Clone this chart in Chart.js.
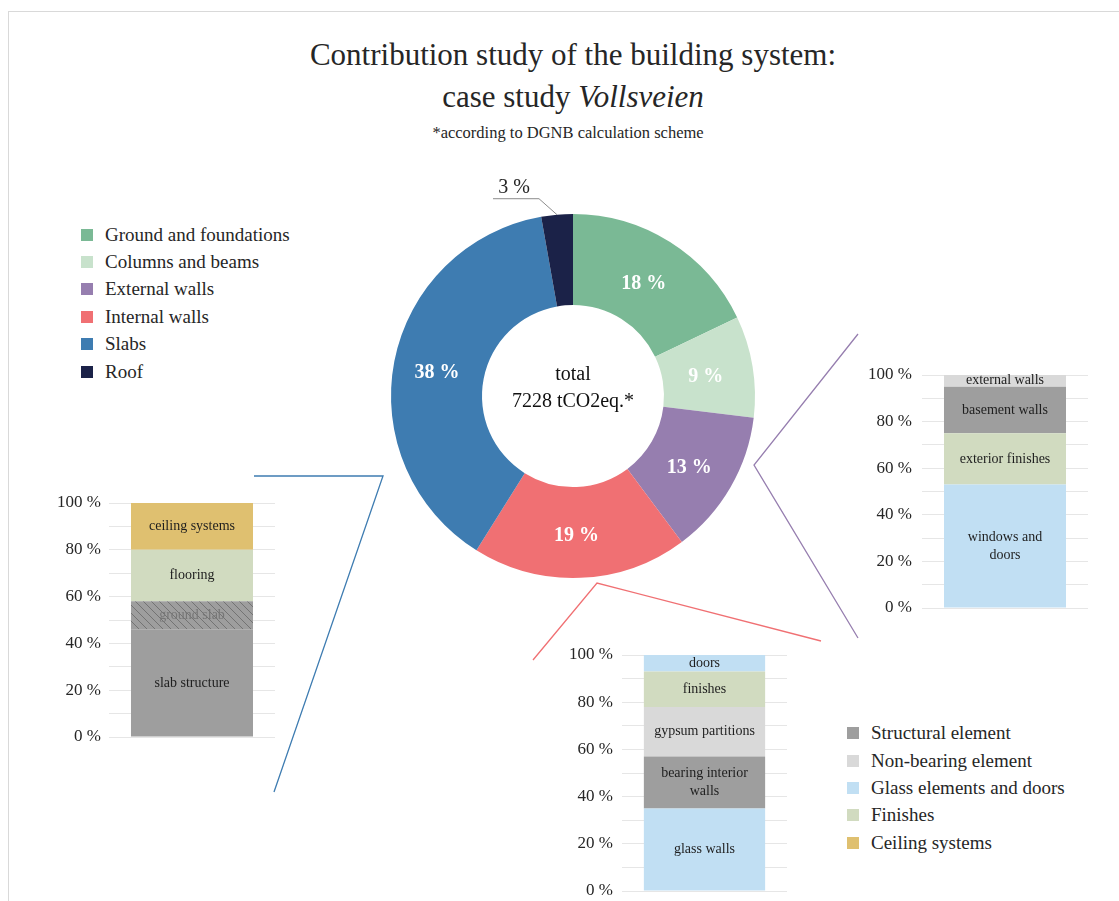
<!DOCTYPE html>
<html lang="en">
<head>
<meta charset="UTF-8">
<title>Contribution study of the building system</title>
<script src="https://cdn.jsdelivr.net/npm/chart.js@4"></script>
<style>
    body {
        margin: 0;
        width: 1119px;
        height: 901px;
        overflow: hidden;
        background: #fff;
        font-family: "Liberation Serif", "Times New Roman", serif;
        color: #262626;
    }
    #frame {
        position: absolute;
        left: 8px;
        top: 11px;
        width: 1200px;
        height: 1000px;
        border-left: 1px solid #d9d9d9;
        border-top: 1px solid #d9d9d9;
    }
    .title {
        position: absolute;
        left: 223px;
        width: 700px;
        text-align: center;
        white-space: nowrap;
    }
    .box { position: absolute; }
    .legend { position: absolute; }
    .legend div {
        display: flex;
        align-items: center;
        height: 27.4px;
        font-size: 19px;
        white-space: nowrap;
    }
    .legend span.sw {
        display: inline-block;
        width: 12px;
        height: 12px;
        margin-right: 12px;
    }
    svg { position: absolute; left: 0; top: 0; pointer-events: none; }
</style>
</head>
<body>
<div id="frame"></div>

<div class="title" style="top:37px; font-size:31px; line-height:36px;">Contribution study of the building system:</div>
<div class="title" style="top:79px; font-size:31px; line-height:36px;">case study <i>Vollsveien</i></div>
<div class="title" style="top:124px; left:218px; font-size:16.5px; line-height:18px;">*according to DGNB calculation scheme</div>

<div id="mainLegend" class="legend" style="left:81px; top:221px;"></div>
<div id="typeLegend" class="legend" style="left:847px; top:719.5px;"></div>

<div class="box" style="left:363px; top:176px; width:420px; height:440px;"><canvas id="donut"></canvas></div>
<div class="box" style="left:40px; top:490px; width:240px; height:260px;"><canvas id="slabBar"></canvas></div>
<div class="box" style="left:850px; top:362px; width:250px; height:259px;"><canvas id="extBar"></canvas></div>
<div class="box" style="left:550px; top:642px; width:250px; height:259px;"><canvas id="intBar"></canvas></div>

<!-- connector lines between donut and detail bars -->
<svg width="1119" height="901">
    <polyline points="254,476 383,476 274,792" fill="none" stroke="#3e7cb1" stroke-width="1.3"/>
    <polyline points="533,660 597,583 821,641" fill="none" stroke="#f07073" stroke-width="1.3"/>
    <polyline points="858,334 754,465 858,638" fill="none" stroke="#967eaf" stroke-width="1.3"/>
</svg>

<script>
    // building system parts, share of total (%)
    var parts = ['Ground and foundations', 'Columns and beams', 'External walls', 'Internal walls', 'Slabs', 'Roof'];
    var partShares = [17.9, 9.0, 12.9, 19.1, 38.3, 2.8];
    var partColors = ['#7ab995', '#c8e2cc', '#967eaf', '#f07073', '#3e7cb1', '#1b2248'];
    var totalText = ['total', '7228 tCO2eq.*'];

    // element types used in the detail bars
    var types = ['Structural element', 'Non-bearing element', 'Glass elements and doors', 'Finishes', 'Ceiling systems'];
    var typeColors = ['#9e9e9e', '#d9d9d9', '#c1dff3', '#d1dbc0', '#dfc070'];

    // slabs breakdown (%)
    var slabItems = ['slab structure', 'ground slab', 'flooring', 'ceiling systems'];
    var slabValues = [46, 12, 22, 20];
    var slabTypes = [0, 0, 3, 4];

    // external walls breakdown (%)
    var extItems = ['windows and\ndoors', 'exterior finishes', 'basement walls', 'external walls'];
    var extValues = [53, 22, 20, 5];
    var extTypes = [2, 3, 0, 1];

    // internal walls breakdown (%)
    var intItems = ['glass walls', 'bearing interior\nwalls', 'gypsum partitions', 'finishes', 'doors'];
    var intValues = [35, 22, 21, 15, 7];
    var intTypes = [2, 0, 1, 3, 2];

    var serif = '"Liberation Serif", "Times New Roman", serif';
    Chart.defaults.font.family = serif;
    Chart.defaults.color = '#262626';
    Chart.defaults.animation = false;

    // legends
    function buildLegend(id, names, colors) {
        var el = document.getElementById(id);
        names.forEach(function (n, i) {
            var row = document.createElement('div');
            var sw = document.createElement('span');
            sw.className = 'sw';
            sw.style.background = colors[i];
            row.appendChild(sw);
            row.appendChild(document.createTextNode(n));
            el.appendChild(row);
        });
    }
    buildLegend('mainLegend', parts, partColors);
    buildLegend('typeLegend', types, typeColors);

    // hatch for ground slab
    function hatch() {
        var c = document.createElement('canvas');
        c.width = 8; c.height = 8;
        var g = c.getContext('2d');
        g.fillStyle = typeColors[0];
        g.fillRect(0, 0, 8, 8);
        g.strokeStyle = '#737373';
        g.lineWidth = 1;
        g.beginPath();
        g.moveTo(0, 0); g.lineTo(8, 8);
        g.moveTo(-1, 7); g.lineTo(1, 9);
        g.moveTo(7, -1); g.lineTo(9, 1);
        g.stroke();
        return g.createPattern(c, 'repeat');
    }

    var donutLabels = {
        id: 'donutLabels',
        afterDraw: function (chart) {
            var ctx = chart.ctx;
            var meta = chart.getDatasetMeta(0);
            var vals = chart.data.datasets[0].data;
            ctx.save();
            ctx.textAlign = 'center';
            ctx.textBaseline = 'middle';
            meta.data.forEach(function (arc, i) {
                var txt = Math.round(vals[i]) + ' %';
                if (vals[i] >= 5) {
                    var p = arc.tooltipPosition();
                    ctx.font = 'bold 20px ' + serif;
                    ctx.fillStyle = '#ffffff';
                    ctx.fillText(txt, p.x - 2, p.y + 3);
                } else {
                    var mid = (arc.startAngle + arc.endAngle) / 2;
                    var x0 = arc.x + Math.cos(mid) * arc.outerRadius;
                    var y0 = arc.y + Math.sin(mid) * arc.outerRadius;
                    var x1 = x0 - 18, y1 = y0 - 16;
                    var x2 = x1 - 46;
                    ctx.strokeStyle = '#8c8c8c';
                    ctx.lineWidth = 1;
                    ctx.beginPath();
                    ctx.moveTo(x0, y0); ctx.lineTo(x1, y1); ctx.lineTo(x2, y1);
                    ctx.stroke();
                    ctx.font = '20px ' + serif;
                    ctx.fillStyle = '#262626';
                    ctx.fillText(txt, (x1 + x2) / 2 - 2, y1 - 11);
                }
            });
            var c = meta.data[0];
            ctx.font = '20px ' + serif;
            ctx.fillStyle = '#111';
            ctx.fillText(totalText[0], c.x, c.y - 21);
            ctx.fillText(totalText[1], c.x, c.y + 6);
            ctx.restore();
        }
    };

    new Chart(document.getElementById('donut'), {
        type: 'doughnut',
        data: {
            labels: parts,
            datasets: [{
                data: partShares,
                backgroundColor: partColors,
                borderWidth: 0
            }]
        },
        options: {
            responsive: true,
            maintainAspectRatio: false,
            cutout: '50%',
            layout: { padding: { top: 38, bottom: 38, left: 28, right: 28 } },
            plugins: { legend: { display: false }, tooltip: { enabled: false } }
        },
        plugins: [donutLabels]
    });

    var segLabels = {
        id: 'segLabels',
        afterDatasetsDraw: function (chart) {
            var ctx = chart.ctx;
            ctx.save();
            ctx.font = '14px ' + serif;
            ctx.textAlign = 'center';
            ctx.textBaseline = 'middle';
            chart.data.datasets.forEach(function (ds, i) {
                var el = chart.getDatasetMeta(i).data[0];
                var lines = ds.label.split('\n');
                var cy = (el.y + el.base) / 2;
                ctx.fillStyle = ds.textColor || '#1e1e1e';
                lines.forEach(function (ln, k) {
                    ctx.fillText(ln, el.x, cy + (k - (lines.length - 1) / 2) * 18);
                });
            });
            ctx.restore();
        }
    };

    function detailBar(id, items, values, typeIdx, axisWidth, tickPad, pad) {
        var datasets = items.map(function (name, i) {
            var ds = {
                label: name,
                data: [values[i]],
                backgroundColor: typeColors[typeIdx[i]],
                borderWidth: 0,
                barPercentage: 0.735,
                categoryPercentage: 1
            };
            if (name === 'ground slab') {
                ds.backgroundColor = hatch();
                ds.textColor = '#767676';
            }
            return ds;
        });
        return new Chart(document.getElementById(id), {
            type: 'bar',
            data: { labels: [''], datasets: datasets },
            options: {
                responsive: true,
                maintainAspectRatio: false,
                layout: { padding: pad },
                plugins: { legend: { display: false }, tooltip: { enabled: false } },
                scales: {
                    x: { stacked: true, display: false },
                    y: {
                        stacked: true,
                        min: 0,
                        max: 100,
                        border: { display: false },
                        grid: { color: '#e6e6e6', drawTicks: false },
                        afterFit: function (scale) {
                            scale.width = axisWidth;
                            scale.paddingTop = 0;
                            scale.paddingBottom = 0;
                        },
                        ticks: {
                            stepSize: 10,
                            autoSkip: false,
                            padding: tickPad,
                            font: { size: 17 },
                            color: '#262626',
                            callback: function (v) { return v % 20 === 0 ? v + ' %' : ''; }
                        }
                    }
                }
            },
            plugins: [segLabels]
        });
    }

    detailBar('slabBar', slabItems, slabValues, slabTypes, 69, 8, { top: 13, bottom: 13, left: 0, right: 5 });
    detailBar('extBar', extItems, extValues, extTypes, 72, 10, { top: 13, bottom: 13, left: 0, right: 12 });
    detailBar('intBar', intItems, intValues, intTypes, 72, 9, { top: 13, bottom: 10, left: 0, right: 13 });
</script>
</body>
</html>
